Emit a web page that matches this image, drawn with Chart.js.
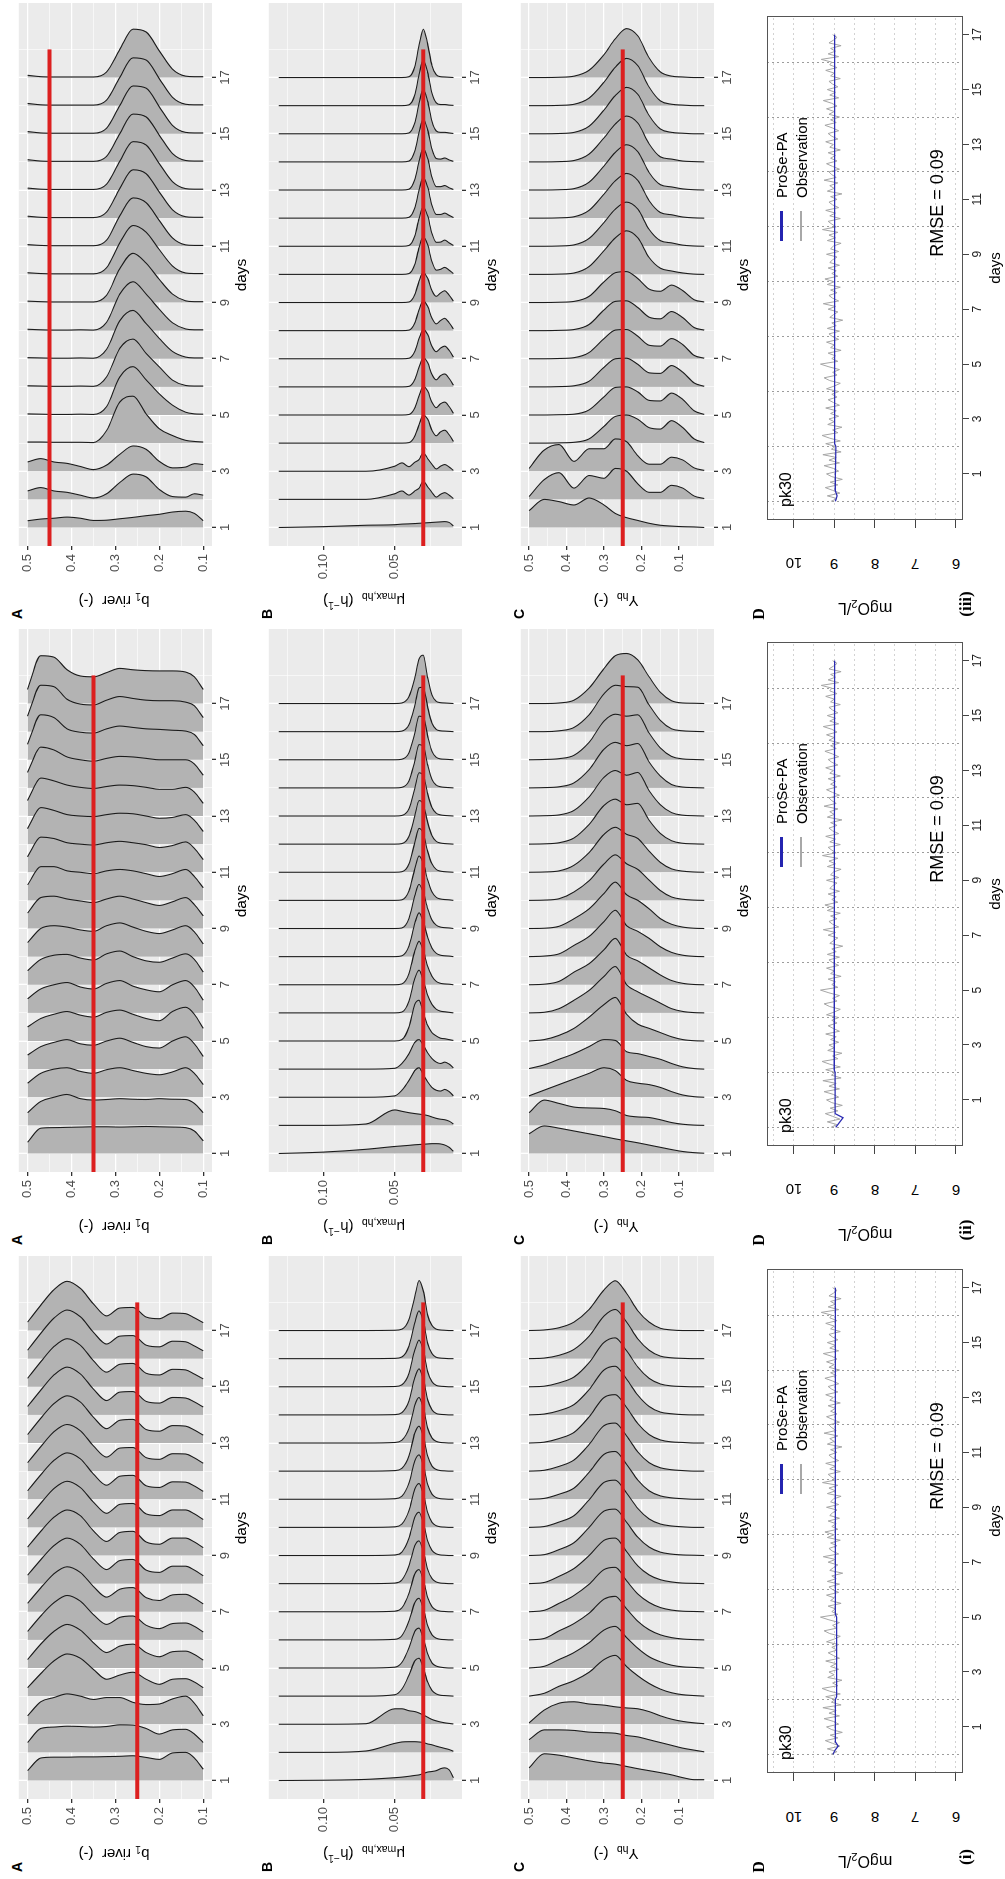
<!DOCTYPE html>
<html>
<head>
<meta charset="utf-8">
<script src="https://cdn.jsdelivr.net/npm/chart.js@4.4.1/dist/chart.umd.min.js"></script>
<style>
  body { margin: 0; width: 1005px; height: 1879px; overflow: hidden; background: #fff; }
  #fig { position: absolute; left: 0; top: 0; width: 1879px; height: 1005px;
         transform-origin: 0 0; transform: translate(0, 1879px) rotate(-90deg);
         font-family: "Liberation Sans", Arial, sans-serif; color: #000; }
  #fig canvas { position: absolute; }
  .t { position: absolute; white-space: nowrap; line-height: 1; }
  .t sub { font-size: 0.7em; vertical-align: -0.3em; line-height: 0; }
  .t sup { font-size: 0.7em; vertical-align: 0.5em; line-height: 0; }
  .bar { position: absolute; }
</style>
</head>
<body>
<div id="fig"></div>
<script>
// the figure is laid out landscape (1879 x 1005) and turned a quarter left, like the printed page

var days = [1, 2, 3, 4, 5, 6, 7, 8, 9, 10, 11, 12, 13, 14, 15, 16, 17];
var dayTicks = [1, 2, 3, 4, 5, 6, 7, 8, 9, 10, 11, 12, 13, 14, 15, 16, 17, 18];

// value grids the ridge heights were read on
var gridA = [0.50, 0.47, 0.44, 0.41, 0.38, 0.35, 0.32, 0.29, 0.26, 0.23, 0.20, 0.17, 0.14, 0.12, 0.10];
var gridB = [0.131, 0.10, 0.07, 0.05, 0.045, 0.04, 0.036, 0.033, 0.030, 0.027, 0.024, 0.021, 0.018, 0.015, 0.012, 0.009];
var gridC = [0.50, 0.46, 0.42, 0.38, 0.34, 0.30, 0.27, 0.24, 0.21, 0.18, 0.15, 0.12, 0.09, 0.06, 0.033];

// value axis ticks (majors labelled)
var ticksA = [0.1, 0.15, 0.2, 0.25, 0.3, 0.35, 0.4, 0.45, 0.5];
var majorsA = [0.1, 0.2, 0.3, 0.4, 0.5];
var ticksB = [0.025, 0.05, 0.075, 0.1, 0.125];
var majorsB = [0.05, 0.1];
var ticksC = [0.05, 0.1, 0.15, 0.2, 0.25, 0.3, 0.35, 0.4, 0.45, 0.5];
var majorsC = [0.1, 0.2, 0.3, 0.4, 0.5];

// true parameter values (red lines) for (i), (ii), (iii)
var trueB1 = [0.25, 0.35, 0.45];
var trueMu = [0.03, 0.03, 0.03];
var trueY = [0.25, 0.25, 0.25];

// ridge heights (in days) for each day 1..17
var ridgesAi = [
  [0.35, 0.80, 0.83, 0.83, 0.84, 0.84, 0.85, 0.86, 0.88, 0.82, 0.75, 0.98, 1.00, 0.80, 0.40],
  [0.35, 0.85, 0.90, 0.93, 0.92, 0.90, 0.92, 0.98, 0.97, 0.85, 0.65, 0.80, 0.82, 0.65, 0.35],
  [0.30, 0.80, 0.95, 1.08, 1.00, 0.88, 0.95, 0.95, 0.78, 0.70, 0.72, 0.90, 1.00, 0.75, 0.30],
  [0.30, 0.80, 1.25, 1.50, 1.35, 0.95, 0.60, 0.75, 0.85, 0.60, 0.42, 0.60, 0.62, 0.50, 0.30],
  [0.30, 0.85, 1.30, 1.55, 1.35, 0.90, 0.55, 0.78, 0.85, 0.55, 0.40, 0.58, 0.60, 0.48, 0.28],
  [0.30, 0.85, 1.32, 1.58, 1.38, 0.90, 0.55, 0.80, 0.85, 0.52, 0.40, 0.58, 0.60, 0.48, 0.28],
  [0.30, 0.85, 1.35, 1.60, 1.40, 0.90, 0.52, 0.80, 0.86, 0.50, 0.40, 0.60, 0.62, 0.48, 0.28],
  [0.30, 0.85, 1.35, 1.62, 1.40, 0.88, 0.50, 0.82, 0.86, 0.48, 0.40, 0.62, 0.62, 0.48, 0.28],
  [0.30, 0.86, 1.36, 1.62, 1.42, 0.88, 0.50, 0.82, 0.86, 0.48, 0.40, 0.62, 0.62, 0.48, 0.28],
  [0.30, 0.86, 1.38, 1.64, 1.42, 0.90, 0.50, 0.82, 0.85, 0.48, 0.42, 0.62, 0.62, 0.48, 0.28],
  [0.30, 0.87, 1.38, 1.65, 1.44, 0.90, 0.50, 0.82, 0.85, 0.48, 0.42, 0.62, 0.61, 0.47, 0.28],
  [0.30, 0.87, 1.40, 1.66, 1.44, 0.90, 0.50, 0.82, 0.84, 0.48, 0.42, 0.62, 0.61, 0.47, 0.28],
  [0.30, 0.88, 1.40, 1.68, 1.46, 0.92, 0.51, 0.81, 0.84, 0.48, 0.42, 0.62, 0.60, 0.46, 0.28],
  [0.30, 0.88, 1.42, 1.70, 1.46, 0.92, 0.51, 0.81, 0.83, 0.48, 0.42, 0.62, 0.60, 0.46, 0.28],
  [0.30, 0.89, 1.43, 1.71, 1.48, 0.93, 0.52, 0.80, 0.83, 0.48, 0.42, 0.62, 0.60, 0.45, 0.28],
  [0.30, 0.90, 1.44, 1.73, 1.49, 0.94, 0.52, 0.80, 0.82, 0.48, 0.42, 0.62, 0.60, 0.45, 0.28],
  [0.30, 0.90, 1.45, 1.75, 1.50, 0.95, 0.52, 0.80, 0.82, 0.48, 0.42, 0.62, 0.60, 0.45, 0.28]
];
var ridgesAii = [
  [0.40, 0.90, 0.92, 0.93, 0.94, 0.95, 0.95, 0.94, 0.95, 0.96, 0.95, 0.94, 0.92, 0.80, 0.45],
  [0.45, 0.85, 1.00, 1.10, 0.95, 0.90, 0.92, 0.95, 0.93, 0.92, 0.95, 0.93, 0.92, 0.78, 0.45],
  [0.50, 0.85, 1.00, 1.05, 0.92, 0.85, 0.98, 1.05, 0.95, 0.85, 0.80, 0.90, 1.05, 0.85, 0.45],
  [0.50, 0.80, 0.95, 1.05, 0.90, 0.85, 1.00, 1.10, 0.95, 0.80, 0.75, 1.00, 1.15, 0.90, 0.45],
  [0.50, 0.80, 0.95, 1.05, 0.92, 0.85, 1.02, 1.10, 0.95, 0.80, 0.72, 1.05, 1.20, 0.95, 0.45],
  [0.50, 0.85, 1.00, 1.08, 0.92, 0.85, 1.05, 1.15, 0.95, 0.82, 0.75, 1.00, 1.15, 0.92, 0.45],
  [0.50, 0.90, 1.05, 1.08, 0.95, 0.88, 1.10, 1.20, 1.00, 0.85, 0.80, 0.95, 1.10, 0.90, 0.45],
  [0.50, 1.00, 1.10, 1.05, 0.95, 0.90, 1.10, 1.20, 1.05, 0.90, 0.82, 0.95, 1.10, 0.88, 0.45],
  [0.55, 1.10, 1.15, 1.05, 0.98, 0.92, 1.05, 1.15, 1.05, 0.92, 0.82, 0.95, 1.10, 0.85, 0.45],
  [0.55, 1.20, 1.20, 1.05, 1.00, 0.95, 1.05, 1.10, 1.05, 0.95, 0.85, 0.95, 1.10, 0.85, 0.45],
  [0.55, 1.25, 1.20, 1.05, 1.00, 0.97, 1.05, 1.10, 1.05, 0.98, 0.88, 0.95, 1.08, 0.85, 0.45],
  [0.55, 1.30, 1.20, 1.05, 1.00, 0.98, 1.05, 1.10, 1.08, 1.00, 0.92, 0.95, 1.05, 0.85, 0.45],
  [0.55, 1.35, 1.25, 1.10, 1.02, 0.98, 1.05, 1.10, 1.08, 1.02, 0.95, 0.95, 1.02, 0.85, 0.45],
  [0.55, 1.45, 1.35, 1.10, 1.00, 0.95, 1.05, 1.12, 1.10, 1.05, 1.00, 1.00, 1.00, 0.85, 0.45],
  [0.55, 1.60, 1.50, 1.10, 0.98, 0.95, 1.10, 1.20, 1.15, 1.10, 1.08, 1.05, 1.02, 0.90, 0.50],
  [0.55, 1.65, 1.60, 1.15, 0.98, 0.95, 1.12, 1.25, 1.18, 1.12, 1.10, 1.10, 1.05, 0.92, 0.50],
  [0.50, 1.70, 1.65, 1.20, 0.98, 0.95, 1.10, 1.25, 1.20, 1.17, 1.16, 1.16, 1.12, 0.95, 0.50]
];
var ridgesAiii = [
  [0.24, 0.30, 0.33, 0.37, 0.33, 0.25, 0.26, 0.31, 0.36, 0.42, 0.47, 0.55, 0.58, 0.50, 0.24],
  [0.30, 0.42, 0.30, 0.25, 0.15, 0.05, 0.20, 0.60, 0.90, 0.80, 0.35, 0.10, 0.08, 0.20, 0.15],
  [0.33, 0.45, 0.33, 0.28, 0.17, 0.06, 0.22, 0.60, 0.90, 0.78, 0.35, 0.12, 0.15, 0.27, 0.24],
  [0.04, 0.04, 0.03, 0.03, 0.03, 0.02, 0.45, 1.46, 1.67, 1.04, 0.51, 0.27, 0.10, 0.06, 0.04],
  [0.04, 0.03, 0.02, 0.02, 0.03, 0.02, 0.30, 1.35, 1.72, 1.25, 0.75, 0.35, 0.10, 0.04, 0.03],
  [0.04, 0.03, 0.02, 0.02, 0.03, 0.02, 0.36, 1.37, 1.70, 1.19, 0.71, 0.24, 0.05, 0.03, 0.03],
  [0.04, 0.03, 0.02, 0.02, 0.03, 0.02, 0.34, 1.35, 1.72, 1.25, 0.72, 0.26, 0.06, 0.03, 0.03],
  [0.05, 0.03, 0.02, 0.02, 0.03, 0.02, 0.30, 1.30, 1.74, 1.30, 0.76, 0.28, 0.06, 0.03, 0.03],
  [0.05, 0.03, 0.02, 0.02, 0.02, 0.02, 0.26, 1.20, 1.75, 1.40, 0.82, 0.30, 0.06, 0.03, 0.03],
  [0.06, 0.03, 0.02, 0.02, 0.02, 0.02, 0.24, 1.12, 1.74, 1.50, 0.88, 0.30, 0.05, 0.03, 0.03],
  [0.06, 0.03, 0.02, 0.02, 0.02, 0.02, 0.22, 1.08, 1.72, 1.55, 0.92, 0.30, 0.05, 0.03, 0.03],
  [0.07, 0.03, 0.02, 0.02, 0.02, 0.02, 0.22, 1.05, 1.72, 1.58, 0.93, 0.30, 0.05, 0.03, 0.03],
  [0.07, 0.03, 0.02, 0.02, 0.02, 0.02, 0.21, 1.02, 1.72, 1.60, 0.94, 0.30, 0.05, 0.03, 0.03],
  [0.08, 0.03, 0.02, 0.02, 0.02, 0.02, 0.20, 1.00, 1.70, 1.60, 0.95, 0.30, 0.05, 0.03, 0.03],
  [0.08, 0.03, 0.02, 0.02, 0.02, 0.02, 0.20, 1.00, 1.70, 1.62, 0.96, 0.30, 0.05, 0.03, 0.03],
  [0.08, 0.03, 0.02, 0.02, 0.02, 0.02, 0.20, 1.00, 1.70, 1.62, 0.96, 0.30, 0.05, 0.03, 0.03],
  [0.08, 0.03, 0.02, 0.02, 0.02, 0.02, 0.20, 1.00, 1.72, 1.62, 0.95, 0.30, 0.05, 0.03, 0.03]
];

var ridgesBi = [
  [0, 0.01, 0.04, 0.10, 0.12, 0.15, 0.18, 0.20, 0.25, 0.30, 0.32, 0.35, 0.42, 0.45, 0.38, 0.10],
  [0, 0, 0.05, 0.32, 0.37, 0.38, 0.38, 0.37, 0.35, 0.30, 0.27, 0.22, 0.18, 0.14, 0.10, 0.04],
  [0, 0, 0.02, 0.55, 0.55, 0.48, 0.45, 0.40, 0.33, 0.25, 0.17, 0.12, 0.08, 0.05, 0.03, 0.01],
  [0, 0, 0, 0.05, 0.25, 0.75, 1.25, 1.35, 1.00, 0.50, 0.20, 0.08, 0.03, 0.02, 0.01, 0],
  [0, 0, 0, 0.03, 0.20, 0.72, 1.30, 1.42, 1.05, 0.50, 0.18, 0.07, 0.03, 0.01, 0, 0],
  [0, 0, 0, 0.02, 0.15, 0.68, 1.32, 1.48, 1.10, 0.50, 0.18, 0.06, 0.02, 0.01, 0, 0],
  [0, 0, 0, 0.02, 0.14, 0.66, 1.34, 1.50, 1.12, 0.50, 0.18, 0.06, 0.02, 0.01, 0, 0],
  [0, 0, 0, 0.02, 0.13, 0.64, 1.35, 1.52, 1.14, 0.50, 0.18, 0.06, 0.02, 0.01, 0, 0],
  [0, 0, 0, 0.02, 0.12, 0.62, 1.36, 1.54, 1.16, 0.51, 0.18, 0.06, 0.02, 0.01, 0, 0],
  [0, 0, 0, 0.02, 0.12, 0.60, 1.36, 1.56, 1.18, 0.52, 0.18, 0.06, 0.02, 0.01, 0, 0],
  [0, 0, 0, 0.02, 0.11, 0.58, 1.36, 1.58, 1.20, 0.52, 0.18, 0.06, 0.02, 0.01, 0, 0],
  [0, 0, 0, 0.02, 0.10, 0.55, 1.35, 1.60, 1.22, 0.53, 0.18, 0.06, 0.02, 0.01, 0, 0],
  [0, 0, 0, 0.02, 0.10, 0.52, 1.34, 1.62, 1.24, 0.53, 0.18, 0.06, 0.02, 0.01, 0, 0],
  [0, 0, 0, 0.01, 0.08, 0.50, 1.32, 1.64, 1.26, 0.54, 0.18, 0.05, 0.02, 0.01, 0, 0],
  [0, 0, 0, 0.01, 0.07, 0.48, 1.30, 1.66, 1.28, 0.54, 0.18, 0.05, 0.02, 0.01, 0, 0],
  [0, 0, 0, 0.01, 0.06, 0.45, 1.27, 1.70, 1.32, 0.55, 0.18, 0.05, 0.02, 0.01, 0, 0],
  [0, 0, 0, 0.01, 0.05, 0.40, 1.20, 1.78, 1.40, 0.55, 0.18, 0.05, 0.02, 0.01, 0, 0]
];
var ridgesBii = [
  [0, 0.05, 0.15, 0.25, 0.27, 0.29, 0.31, 0.32, 0.33, 0.34, 0.35, 0.35, 0.34, 0.30, 0.22, 0.08],
  [0, 0, 0.05, 0.55, 0.50, 0.45, 0.42, 0.40, 0.38, 0.35, 0.30, 0.25, 0.22, 0.20, 0.15, 0.05],
  [0, 0, 0, 0.05, 0.25, 0.60, 0.95, 1.05, 0.80, 0.55, 0.35, 0.25, 0.22, 0.28, 0.20, 0.05],
  [0, 0, 0, 0.03, 0.20, 0.55, 0.95, 1.05, 0.85, 0.58, 0.38, 0.25, 0.20, 0.25, 0.18, 0.05],
  [0, 0, 0, 0, 0.05, 0.50, 1.30, 1.45, 1.00, 0.55, 0.30, 0.18, 0.10, 0.08, 0.05, 0.02],
  [0, 0, 0, 0, 0.03, 0.42, 1.22, 1.52, 1.15, 0.62, 0.30, 0.13, 0.06, 0.04, 0.02, 0],
  [0, 0, 0, 0, 0.03, 0.40, 1.20, 1.55, 1.20, 0.65, 0.30, 0.12, 0.05, 0.03, 0.02, 0],
  [0, 0, 0, 0, 0.03, 0.38, 1.18, 1.56, 1.24, 0.68, 0.30, 0.12, 0.05, 0.03, 0.02, 0],
  [0, 0, 0, 0, 0.02, 0.36, 1.16, 1.57, 1.28, 0.70, 0.30, 0.12, 0.05, 0.03, 0.02, 0],
  [0, 0, 0, 0, 0.02, 0.34, 1.12, 1.58, 1.32, 0.72, 0.30, 0.11, 0.05, 0.03, 0.02, 0],
  [0, 0, 0, 0, 0.02, 0.30, 1.05, 1.56, 1.38, 0.75, 0.30, 0.10, 0.04, 0.02, 0.01, 0],
  [0, 0, 0, 0, 0.02, 0.28, 1.00, 1.55, 1.42, 0.78, 0.30, 0.10, 0.04, 0.02, 0.01, 0],
  [0, 0, 0, 0, 0.02, 0.26, 0.97, 1.54, 1.45, 0.80, 0.30, 0.10, 0.04, 0.02, 0.01, 0],
  [0, 0, 0, 0, 0.02, 0.25, 0.95, 1.54, 1.48, 0.82, 0.30, 0.10, 0.04, 0.02, 0.01, 0],
  [0, 0, 0, 0, 0.02, 0.25, 0.94, 1.55, 1.52, 0.85, 0.30, 0.09, 0.03, 0.02, 0.01, 0],
  [0, 0, 0, 0, 0.02, 0.25, 0.92, 1.56, 1.58, 0.88, 0.30, 0.08, 0.03, 0.02, 0.01, 0],
  [0, 0, 0, 0, 0.02, 0.25, 0.90, 1.58, 1.72, 0.92, 0.30, 0.08, 0.03, 0.02, 0.01, 0]
];
var ridgesBiii = [
  [0, 0.03, 0.08, 0.10, 0.12, 0.13, 0.14, 0.15, 0.16, 0.17, 0.18, 0.19, 0.20, 0.21, 0.18, 0.06],
  [0, 0, 0, 0.20, 0.30, 0.15, 0.30, 0.40, 0.65, 0.45, 0.25, 0.08, 0.18, 0.24, 0.15, 0.03],
  [0, 0, 0, 0.18, 0.30, 0.16, 0.32, 0.42, 0.66, 0.45, 0.25, 0.08, 0.18, 0.24, 0.15, 0.03],
  [0, 0, 0, 0, 0, 0.02, 0.25, 0.65, 1.00, 0.85, 0.45, 0.26, 0.40, 0.46, 0.30, 0.06],
  [0, 0, 0, 0, 0, 0.02, 0.25, 0.68, 1.02, 0.85, 0.45, 0.26, 0.40, 0.46, 0.30, 0.06],
  [0, 0, 0, 0, 0, 0.02, 0.26, 0.70, 1.04, 0.86, 0.44, 0.25, 0.40, 0.46, 0.30, 0.06],
  [0, 0, 0, 0, 0, 0.02, 0.26, 0.72, 1.05, 0.86, 0.44, 0.25, 0.38, 0.45, 0.30, 0.06],
  [0, 0, 0, 0, 0, 0.02, 0.27, 0.74, 1.06, 0.86, 0.44, 0.24, 0.36, 0.44, 0.28, 0.06],
  [0, 0, 0, 0, 0, 0.02, 0.28, 0.76, 1.08, 0.86, 0.42, 0.22, 0.34, 0.42, 0.26, 0.05],
  [0, 0, 0, 0, 0, 0.03, 0.35, 0.95, 1.35, 1.05, 0.45, 0.15, 0.18, 0.25, 0.15, 0.03],
  [0, 0, 0, 0, 0, 0.03, 0.36, 0.98, 1.40, 1.08, 0.45, 0.14, 0.15, 0.22, 0.12, 0.03],
  [0, 0, 0, 0, 0, 0.03, 0.36, 1.00, 1.45, 1.10, 0.45, 0.13, 0.13, 0.18, 0.10, 0.02],
  [0, 0, 0, 0, 0, 0.03, 0.37, 1.02, 1.48, 1.12, 0.45, 0.12, 0.12, 0.16, 0.08, 0.02],
  [0, 0, 0, 0, 0, 0.03, 0.38, 1.05, 1.52, 1.14, 0.45, 0.12, 0.10, 0.14, 0.07, 0.02],
  [0, 0, 0, 0, 0, 0.03, 0.38, 1.08, 1.58, 1.16, 0.44, 0.10, 0.05, 0.05, 0.03, 0.01],
  [0, 0, 0, 0, 0, 0.03, 0.38, 1.10, 1.62, 1.18, 0.44, 0.10, 0.04, 0.04, 0.02, 0.01],
  [0, 0, 0, 0, 0, 0.03, 0.38, 1.15, 1.72, 1.20, 0.42, 0.10, 0.03, 0.02, 0.01, 0]
];

var ridgesCi = [
  [0.45, 0.95, 0.90, 0.80, 0.70, 0.62, 0.58, 0.50, 0.42, 0.35, 0.28, 0.20, 0.10, 0.03, 0.03],
  [0.45, 0.80, 0.80, 0.78, 0.72, 0.70, 0.68, 0.60, 0.55, 0.45, 0.35, 0.25, 0.15, 0.08, 0.02],
  [0.05, 0.50, 0.75, 0.80, 0.72, 0.68, 0.62, 0.58, 0.55, 0.45, 0.30, 0.18, 0.10, 0.05, 0.02],
  [0, 0.10, 0.35, 0.55, 0.85, 1.30, 1.45, 1.05, 0.72, 0.45, 0.25, 0.12, 0.05, 0.02, 0],
  [0, 0.06, 0.30, 0.55, 0.90, 1.35, 1.48, 1.08, 0.70, 0.40, 0.22, 0.10, 0.04, 0.02, 0],
  [0, 0.05, 0.32, 0.58, 0.95, 1.45, 1.55, 1.10, 0.66, 0.36, 0.18, 0.08, 0.03, 0.01, 0],
  [0, 0.05, 0.30, 0.58, 0.98, 1.50, 1.58, 1.10, 0.63, 0.33, 0.15, 0.06, 0.02, 0.01, 0],
  [0, 0.04, 0.26, 0.54, 1.00, 1.54, 1.62, 1.14, 0.63, 0.31, 0.14, 0.06, 0.02, 0.01, 0],
  [0, 0.03, 0.21, 0.46, 1.00, 1.58, 1.65, 1.18, 0.65, 0.30, 0.12, 0.05, 0.02, 0.01, 0],
  [0, 0.03, 0.19, 0.42, 0.98, 1.60, 1.68, 1.22, 0.67, 0.30, 0.12, 0.05, 0.02, 0, 0],
  [0, 0.03, 0.18, 0.40, 0.96, 1.60, 1.70, 1.24, 0.68, 0.30, 0.12, 0.05, 0.02, 0, 0],
  [0, 0.03, 0.17, 0.40, 0.95, 1.62, 1.71, 1.25, 0.68, 0.30, 0.12, 0.05, 0.02, 0, 0],
  [0, 0.03, 0.16, 0.38, 0.93, 1.62, 1.72, 1.26, 0.69, 0.30, 0.11, 0.04, 0.02, 0, 0],
  [0, 0.03, 0.15, 0.37, 0.90, 1.60, 1.73, 1.27, 0.70, 0.30, 0.10, 0.04, 0.01, 0, 0],
  [0, 0.02, 0.14, 0.35, 0.86, 1.58, 1.74, 1.28, 0.70, 0.30, 0.10, 0.03, 0.01, 0, 0],
  [0, 0.02, 0.12, 0.33, 0.80, 1.52, 1.75, 1.30, 0.70, 0.30, 0.09, 0.03, 0.01, 0, 0],
  [0, 0.02, 0.10, 0.30, 0.75, 1.45, 1.77, 1.32, 0.70, 0.30, 0.08, 0.02, 0, 0, 0]
];
var ridgesCii = [
  [0.70, 0.98, 0.90, 0.80, 0.70, 0.60, 0.52, 0.45, 0.38, 0.30, 0.22, 0.14, 0.07, 0.03, 0.01],
  [0.45, 0.90, 0.78, 0.65, 0.62, 0.60, 0.52, 0.35, 0.30, 0.28, 0.20, 0.10, 0.04, 0.01, 0],
  [0.05, 0.25, 0.45, 0.65, 0.85, 1.05, 0.95, 0.60, 0.50, 0.45, 0.35, 0.20, 0.08, 0.02, 0],
  [0.02, 0.15, 0.35, 0.55, 0.80, 1.05, 1.02, 0.62, 0.55, 0.45, 0.35, 0.20, 0.08, 0.02, 0],
  [0, 0.05, 0.20, 0.45, 0.85, 1.30, 1.55, 0.95, 0.60, 0.45, 0.30, 0.15, 0.05, 0.01, 0],
  [0, 0.02, 0.15, 0.45, 0.80, 1.30, 1.65, 1.00, 0.75, 0.55, 0.35, 0.15, 0.05, 0.01, 0],
  [0, 0.02, 0.12, 0.45, 0.75, 1.25, 1.65, 1.05, 0.85, 0.60, 0.35, 0.15, 0.05, 0.01, 0],
  [0, 0.02, 0.10, 0.40, 0.72, 1.25, 1.65, 1.10, 0.90, 0.65, 0.35, 0.15, 0.05, 0.01, 0],
  [0, 0.01, 0.08, 0.35, 0.70, 1.25, 1.65, 1.20, 1.00, 0.70, 0.35, 0.15, 0.05, 0.01, 0],
  [0, 0.01, 0.06, 0.30, 0.70, 1.30, 1.62, 1.30, 1.10, 0.72, 0.35, 0.12, 0.04, 0.01, 0],
  [0, 0.01, 0.05, 0.25, 0.70, 1.35, 1.60, 1.35, 1.20, 0.75, 0.35, 0.12, 0.04, 0.01, 0],
  [0, 0.01, 0.05, 0.22, 0.70, 1.38, 1.60, 1.40, 1.45, 0.85, 0.38, 0.12, 0.03, 0.01, 0],
  [0, 0.01, 0.04, 0.20, 0.68, 1.38, 1.62, 1.45, 1.55, 0.90, 0.40, 0.12, 0.03, 0.01, 0],
  [0, 0.01, 0.04, 0.18, 0.65, 1.38, 1.62, 1.50, 1.58, 0.92, 0.42, 0.12, 0.03, 0.01, 0],
  [0, 0.01, 0.04, 0.16, 0.62, 1.38, 1.62, 1.55, 1.60, 0.95, 0.42, 0.12, 0.03, 0.01, 0],
  [0, 0, 0.03, 0.15, 0.60, 1.35, 1.65, 1.60, 1.58, 0.95, 0.40, 0.10, 0.03, 0.01, 0],
  [0, 0, 0.02, 0.12, 0.55, 1.25, 1.70, 1.78, 1.55, 0.95, 0.40, 0.10, 0.02, 0.01, 0]
];
var ridgesCiii = [
  [0.60, 1.00, 0.92, 0.80, 1.05, 0.80, 0.50, 0.35, 0.25, 0.15, 0.08, 0.05, 0.03, 0.02, 0],
  [0.10, 0.70, 0.95, 0.40, 0.85, 0.75, 1.10, 1.00, 0.55, 0.25, 0.25, 0.50, 0.40, 0.12, 0.03],
  [0.10, 0.75, 0.95, 0.35, 0.80, 0.80, 1.15, 1.05, 0.55, 0.25, 0.25, 0.50, 0.40, 0.12, 0.03],
  [0, 0, 0.01, 0.03, 0.15, 0.60, 0.95, 1.00, 0.85, 0.55, 0.50, 0.80, 0.55, 0.15, 0.02],
  [0, 0, 0.01, 0.03, 0.18, 0.65, 0.98, 1.00, 0.82, 0.52, 0.50, 0.78, 0.55, 0.15, 0.02],
  [0, 0, 0.01, 0.04, 0.20, 0.70, 1.00, 1.02, 0.80, 0.50, 0.48, 0.76, 0.52, 0.14, 0.02],
  [0, 0, 0.01, 0.04, 0.22, 0.72, 1.02, 1.04, 0.80, 0.48, 0.45, 0.72, 0.50, 0.12, 0.02],
  [0, 0, 0.01, 0.04, 0.22, 0.74, 1.04, 1.06, 0.82, 0.48, 0.42, 0.68, 0.46, 0.11, 0.02],
  [0, 0, 0.01, 0.04, 0.22, 0.74, 1.06, 1.10, 0.85, 0.48, 0.40, 0.62, 0.42, 0.10, 0.02],
  [0, 0, 0.01, 0.05, 0.28, 0.85, 1.30, 1.55, 1.30, 0.60, 0.22, 0.12, 0.05, 0.01, 0],
  [0, 0, 0.01, 0.05, 0.28, 0.85, 1.32, 1.57, 1.32, 0.60, 0.20, 0.12, 0.04, 0.01, 0],
  [0, 0, 0.01, 0.05, 0.28, 0.86, 1.33, 1.59, 1.34, 0.62, 0.20, 0.12, 0.04, 0.01, 0],
  [0, 0, 0.01, 0.05, 0.28, 0.86, 1.34, 1.61, 1.36, 0.62, 0.19, 0.11, 0.04, 0.01, 0],
  [0, 0, 0.01, 0.05, 0.28, 0.86, 1.35, 1.63, 1.38, 0.64, 0.18, 0.10, 0.03, 0.01, 0],
  [0, 0, 0.01, 0.05, 0.27, 0.85, 1.36, 1.65, 1.40, 0.65, 0.17, 0.05, 0.02, 0, 0],
  [0, 0, 0.01, 0.05, 0.27, 0.84, 1.37, 1.68, 1.42, 0.66, 0.17, 0.05, 0.02, 0, 0],
  [0, 0, 0.01, 0.05, 0.26, 0.82, 1.38, 1.74, 1.48, 0.70, 0.20, 0.05, 0.02, 0, 0]
];

// dissolved oxygen at pk30, observations every 0.1 day from day 0 to 17
var obsO2 = [
  9.08, 8.93, 9.17, 8.86, 9.04, 9.22, 8.91, 9.10, 8.80, 9.06,
  9.19, 8.89, 9.02, 9.25, 8.87, 9.13, 8.95, 9.28, 8.83, 9.07,
  8.97, 9.21, 8.85, 9.11, 9.30, 8.91, 9.04, 8.81, 9.16, 9.00,
  9.13, 8.89, 9.09, 8.95, 9.21, 8.87, 9.02, 9.15, 8.93, 9.06,
  8.89, 9.19, 9.00, 8.85, 9.11, 9.25, 8.93, 9.04, 8.87, 9.13,
  9.34, 8.91, 9.06, 8.97, 9.15, 8.83, 9.09, 9.00, 9.19, 8.89,
  9.04, 9.13, 8.87, 9.17, 8.95, 9.06, 8.79, 9.11, 9.02, 8.91,
  9.15, 8.97, 9.27, 8.89, 9.04, 9.13, 8.93, 9.09, 8.85, 9.17,
  9.00, 9.23, 8.91, 9.06, 8.95, 9.15, 8.87, 9.11, 9.04, 8.93,
  9.19, 8.89, 9.09, 9.02, 8.83, 9.17, 8.97, 9.13, 8.91, 9.29,
  8.95, 9.06, 9.15, 8.85, 9.11, 8.97, 9.21, 8.89, 9.04, 9.13,
  8.93, 9.09, 8.81, 9.17, 9.00, 9.11, 8.91, 9.25, 8.95, 9.06,
  9.13, 8.87, 9.04, 9.19, 8.93, 9.09, 8.97, 9.15, 8.85, 9.11,
  9.02, 9.21, 8.91, 9.06, 9.15, 8.89, 9.04, 9.23, 8.95, 9.09,
  8.87, 9.13, 9.00, 9.19, 8.93, 9.06, 9.27, 8.89, 9.11, 8.97,
  9.17, 8.91, 9.04, 9.13, 8.85, 9.09, 9.00, 9.21, 8.93, 9.11,
  9.06, 9.32, 8.89, 9.15, 8.97, 9.09, 8.83, 9.13, 9.02, 8.93,
  9.04
];
var obsDays = obsO2.map(function (v, i) { return i / 10; });

// ProSe-PA simulations for the three runs
var modelDays = [
  [0, 0.15, 0.3, 0.45, 2.0, 2.1, 5.0, 5.1, 17],
  [0, 0.35, 0.5, 2.0, 2.1, 17],
  [0, 0.2, 0.4, 2.0, 2.1, 17]
];
var modelO2 = [
  [9.03, 8.98, 8.90, 8.97, 8.97, 8.94, 8.94, 8.97, 8.97],
  [8.96, 8.78, 8.98, 8.98, 9.00, 8.99],
  [8.97, 8.93, 8.98, 8.96, 8.99, 8.99]
];
var o2DayTicks = [0, 1, 2, 3, 4, 5, 6, 7, 8, 9, 10, 11, 12, 13, 14, 15, 16, 17];
var o2Ticks = [6, 6.5, 7, 7.5, 8, 8.5, 9, 9.5, 10, 10.5];
var o2Labels = [10, 9, 8, 7, 6];

var FONT = 'Liberation Sans';
var fig = document.getElementById('fig');
var colX = [0, 627, 1253];
var rowTop = [15, 265, 517];
var boxTop = 767, boxBottom = 963;
var o2Min = 5.82, o2Max = 10.66;

var panelBg = {
  id: 'panelBg',
  beforeDraw: function (chart) {
    var a = chart.chartArea, ctx = chart.ctx;
    ctx.save();
    ctx.fillStyle = '#ebebeb';
    ctx.fillRect(a.left, a.top, a.right - a.left, a.bottom - a.top);
    ctx.restore();
  }
};

var boxLine = {
  id: 'boxLine',
  afterDraw: function (chart) {
    var a = chart.chartArea, ctx = chart.ctx;
    ctx.save();
    ctx.strokeStyle = '#555';
    ctx.lineWidth = 1;
    ctx.strokeRect(Math.round(a.left) + 0.5, Math.round(a.top) + 0.5,
      Math.round(a.right - a.left) - 1, Math.round(a.bottom - a.top) - 1);
    ctx.restore();
  }
};

function isIn(list, v) {
  return list.some(function (m) { return Math.abs(m - v) < 1e-9; });
}

function put(html, x, y, css, mode) {
  var d = document.createElement('div');
  d.className = 't';
  d.innerHTML = html;
  d.style.cssText = 'left:' + x + 'px;top:' + y + 'px;' + (css || '');
  var tf = mode === 'left' ? 'translate(0,-50%)' : 'translate(-50%,-50%)';
  if (mode === 'rot') tf += ' rotate(-90deg)';
  d.style.transform = tf;
  fig.appendChild(d);
}

function bar(x, y, w, h, color) {
  var d = document.createElement('div');
  d.className = 'bar';
  d.style.cssText = 'left:' + x + 'px;top:' + y + 'px;width:' + w + 'px;height:' + h + 'px;background:' + color;
  fig.appendChild(d);
}

function ridgePanel(col, row, grid, heights, trueVal, vmin, vmax, ticks, majors, digits) {
  var x0 = colX[col], top = rowTop[row];
  var cv = document.createElement('canvas');
  cv.width = 595;
  cv.height = 231;
  cv.style.left = (x0 + 28) + 'px';
  cv.style.top = (top - 8) + 'px';
  fig.appendChild(cv);

  var sets = heights.map(function (h, i) {
    var d = days[i];
    return {
      data: grid.map(function (v, k) { return {x: d + h[k], y: v}; }),
      borderColor: '#1c1c1c',
      borderWidth: 1.1,
      backgroundColor: '#b3b3b3',
      fill: {value: d},
      pointRadius: 0,
      cubicInterpolationMode: 'monotone'
    };
  });
  sets.push({
    data: [{x: 0, y: trueVal}, {x: 18, y: trueVal}],
    borderColor: '#dc1f1f',
    borderWidth: 4,
    pointRadius: 0,
    fill: false,
    order: -1,
    clip: 0
  });

  new Chart(cv, {
    type: 'line',
    data: {datasets: sets},
    options: {
      indexAxis: 'y',
      responsive: false,
      animation: false,
      events: [],
      layout: {padding: {top: 8, right: 0, bottom: 0, left: 0}},
      plugins: {legend: {display: false}, tooltip: {enabled: false}},
      scales: {
        x: {
          type: 'linear', position: 'bottom', min: 0.342, max: 19.65,
          afterBuildTicks: function (s) { s.ticks = dayTicks.map(function (v) { return {value: v}; }); },
          afterFit: function (s) { s.height = 26; },
          ticks: {
            autoSkip: false, maxRotation: 0, padding: 2, color: '#4d4d4d',
            font: {family: FONT, size: 13},
            callback: function (v) { return v % 2 === 1 ? String(v) : ''; }
          },
          grid: {
            color: '#ffffff',
            lineWidth: function (c) { return c.tick && c.tick.value % 2 === 1 ? 1.3 : 0.6; },
            tickLength: 4,
            tickColor: function (c) { return c.tick && c.tick.value % 2 === 1 ? '#333333' : 'rgba(0,0,0,0)'; }
          },
          border: {display: false}
        },
        y: {
          type: 'linear', position: 'left', min: vmin, max: vmax,
          afterBuildTicks: function (s) { s.ticks = ticks.map(function (v) { return {value: v}; }); },
          afterFit: function (s) { s.width = 52; },
          ticks: {
            padding: 4, color: '#4d4d4d',
            font: {family: FONT, size: 13},
            callback: function (v) { return isIn(majors, v) ? v.toFixed(digits) : ''; }
          },
          grid: {
            color: '#ffffff',
            lineWidth: function (c) { return c.tick && isIn(majors, c.tick.value) ? 1.3 : 0.6; },
            tickLength: 4,
            tickColor: function (c) { return c.tick && isIn(majors, c.tick.value) ? '#333333' : 'rgba(0,0,0,0)'; }
          },
          border: {display: false}
        }
      }
    },
    plugins: [panelBg]
  });
}

function o2Panel(col) {
  var x0 = colX[col];
  var cv = document.createElement('canvas');
  cv.width = 520;
  cv.height = 231;
  cv.style.left = (x0 + 96) + 'px';
  cv.style.top = (boxTop - 7) + 'px';
  fig.appendChild(cv);

  new Chart(cv, {
    type: 'line',
    data: {
      datasets: [
        {
          data: modelDays[col].map(function (t, i) { return {x: t, y: modelO2[col][i]}; }),
          borderColor: '#2b2bb3', borderWidth: 1.3, pointRadius: 0, fill: false
        },
        {
          data: obsDays.map(function (t, i) { return {x: t, y: obsO2[i]}; }),
          borderColor: '#a6a6a6', borderWidth: 1, pointRadius: 0, fill: false
        }
      ]
    },
    options: {
      responsive: false,
      animation: false,
      events: [],
      layout: {padding: {top: 7, right: 6, bottom: 0, left: 0}},
      plugins: {legend: {display: false}, tooltip: {enabled: false}},
      scales: {
        x: {
          type: 'linear', min: -0.68, max: 17.68,
          afterBuildTicks: function (s) { s.ticks = o2DayTicks.map(function (v) { return {value: v}; }); },
          afterFit: function (s) { s.height = 28; },
          ticks: {
            autoSkip: false, maxRotation: 0, padding: 1, color: '#222',
            font: {family: FONT, size: 12},
            callback: function (v) { return v % 2 === 1 ? String(v) : ''; }
          },
          grid: {
            color: function (c) { return c.tick && c.tick.value % 2 === 0 ? '#9c9c9c' : 'rgba(0,0,0,0)'; },
            lineWidth: 1,
            tickLength: 6,
            tickColor: function (c) { return c.tick && c.tick.value % 2 === 1 ? '#444' : 'rgba(0,0,0,0)'; }
          },
          border: {display: false, dash: [2, 3]}
        },
        y: {
          type: 'linear', min: o2Min, max: o2Max,
          afterBuildTicks: function (s) { s.ticks = o2Ticks.map(function (v) { return {value: v}; }); },
          afterFit: function (s) { s.width = 10; },
          ticks: {display: false},
          grid: {
            color: '#d2d2d2',
            lineWidth: 1,
            tickLength: 8,
            tickColor: function (c) { return c.tick && c.tick.value % 1 === 0 ? '#444' : 'rgba(0,0,0,0)'; }
          },
          border: {display: false, dash: [2, 3]}
        }
      }
    },
    plugins: [boxLine]
  });
}

var letters = ['A', 'B', 'C'];
var romans = ['(i)', '(ii)', '(iii)'];
var axisTitles = ['b<sub>1</sub> river&nbsp; (-)', 'μ<sub>max,hb</sub>&nbsp; (h<sup>−1</sup>)', 'Y<sub>hb</sub>&nbsp; (-)'];
var ridgeSets = [
  [ridgesAi, ridgesBi, ridgesCi],
  [ridgesAii, ridgesBii, ridgesCii],
  [ridgesAiii, ridgesBiii, ridgesCiii]
];

for (var col = 0; col < 3; col++) {
  var x0 = colX[col];
  ridgePanel(col, 0, gridA, ridgeSets[col][0], trueB1[col], 0.08, 0.52, ticksA, majorsA, 1);
  ridgePanel(col, 1, gridB, ridgeSets[col][1], trueMu[col], 0.003, 0.138, ticksB, majorsB, 2);
  ridgePanel(col, 2, gridC, ridgeSets[col][2], trueY[col], 0.007, 0.522, ticksC, majorsC, 1);
  o2Panel(col);

  for (var r = 0; r < 3; r++) {
    put(letters[r], x0 + 12, rowTop[r] + 2, 'font-weight:bold;font-size:14px');
    put(axisTitles[r], x0 + 24, rowTop[r] + 98.5, 'font-size:15px', 'rot');
    put('days', x0 + 351, rowTop[r] + 226, 'font-size:15.5px');
  }

  put('D', x0 + 12, 759, 'font:bold 16px "Liberation Serif", serif');
  put(romans[col], x0 + 22, 966, 'font:bold 17px "Liberation Serif", serif');
  put('mgO<sub>2</sub>/L', x0 + 18, (boxTop + boxBottom) / 2, 'font-size:16px', 'rot');
  o2Labels.forEach(function (v) {
    var y = boxTop + (o2Max - v) / (o2Max - o2Min) * (boxBottom - boxTop);
    put(String(v), x0 + 62, y, 'font-size:15px', 'rot');
  });
  put('days', x0 + 358, 994, 'font-size:15px');
  put('pk30', x0 + 119, 786, 'font-size:16px', 'left');
  bar(x0 + 385, 779.5, 30, 3, '#2424b0');
  bar(x0 + 385, 800, 30, 2, '#a8a8a8');
  put('ProSe-PA', x0 + 428, 781, 'font-size:15px', 'left');
  put('Observation', x0 + 428, 801, 'font-size:15px', 'left');
  put('RMSE = 0.09', x0 + 423, 937, 'font-size:18px');
}
</script>
</body>
</html>
